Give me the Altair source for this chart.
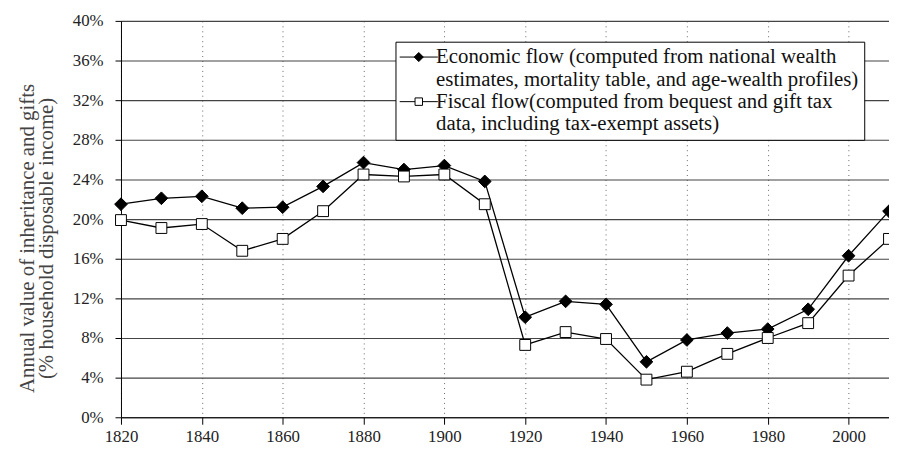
import altair as alt
import pandas as pd

years = [1820, 1830, 1840, 1850, 1860, 1870, 1880, 1890, 1900, 1910,
         1920, 1930, 1940, 1950, 1960, 1970, 1980, 1990, 2000, 2010]
economic = [21.5, 22.1, 22.3, 21.1, 21.2, 23.3, 25.7, 25.0, 25.4, 23.8,
            10.1, 11.7, 11.4, 5.6, 7.8, 8.5, 8.9, 10.9, 16.3, 20.8]
fiscal = [19.9, 19.1, 19.5, 16.8, 18.0, 20.8, 24.5, 24.3, 24.5, 21.5,
          7.3, 8.6, 7.9, 3.8, 4.6, 6.4, 8.0, 9.5, 14.3, 18.0]
series_labels = [
    "Economic flow  (computed from national wealth|estimates, mortality table, and age-wealth profiles)",
    "Fiscal flow(computed from bequest and gift tax|data, including tax-exempt assets)",
]
x_ticks = list(range(1820, 2001, 20))
y_ticks = list(range(0, 41, 4))
y_title = ["Annual value of inheritance and gifts", "(% household disposable income)"]

df = pd.DataFrame({
    "year": years * 2,
    "value": economic + fiscal,
    "series": [series_labels[0]] * len(years) + [series_labels[1]] * len(years),
})

FONT = "Liberation Serif"

x_enc = alt.X("year:Q", scale=alt.Scale(domain=[1820, 2010], nice=False, zero=False),
              axis=alt.Axis(values=x_ticks, format="d", title=None, grid=True,
                            gridDash=[1, 4], gridColor="#666", gridWidth=1,
                            labelFontSize=17, labelPadding=4, tickSize=7,
                            labelFlush=False, labelColor="#222"))
y_enc = alt.Y("value:Q", scale=alt.Scale(domain=[0, 40], nice=False),
              axis=alt.Axis(values=y_ticks, labelExpr="datum.value + '%'",
                            title=y_title, grid=True, gridColor="#444", gridWidth=1.1,
                            labelFontSize=17, labelPadding=12, tickSize=6,
                            labelFlush=False,
                            titleFontSize=21, titleFontWeight="normal", titleColor="#444",
                            titlePadding=16, titleLineHeight=19, titleY=219,
                            labelColor="#222"))

lines = alt.Chart(df).mark_line(color="black", strokeWidth=1.3).encode(
    x=x_enc, y=y_enc, detail="series:N")

points = alt.Chart(df).mark_point(opacity=1, stroke="black", strokeWidth=1).encode(
    x=x_enc, y=y_enc,
    shape=alt.Shape("series:N", scale=alt.Scale(domain=series_labels, range=["diamond", "square"]),
                    legend=None),
    fill=alt.Fill("series:N", scale=alt.Scale(domain=series_labels, range=["black", "white"]),
                  legend=None),
    size=alt.Size("series:N", scale=alt.Scale(domain=series_labels, range=[165, 120]), legend=None),
)

legend_shapes = [
    "M-2.3,0L2.3,0M0,-0.55L0.55,0L0,0.55L-0.55,0Z",
    "M-2.3,0L-0.45,0M0.45,0L2.3,0M-0.45,-0.45L0.45,-0.45L0.45,0.45L-0.45,0.45Z",
]
leg = alt.Legend(
    title=None, orient="none", legendX=277, legendY=21,
    fillColor="white", strokeColor="black", padding=5,
    labelFont=FONT, labelFontSize=21, labelLimit=700,
    labelExpr="split(datum.label, '|')", labelColor="#111",
    symbolSize=280, rowPadding=0, labelOffset=7, symbolStrokeWidth=1,
    symbolOffset=8,
)
legend_layer = alt.Chart(df).transform_filter("false").mark_point(
    opacity=1, stroke="black", strokeWidth=1, size=280).encode(
    x=x_enc, y=y_enc,
    shape=alt.Shape("series:N", scale=alt.Scale(domain=series_labels, range=legend_shapes), legend=leg),
    fill=alt.Fill("series:N", scale=alt.Scale(domain=series_labels, range=["black", "white"]), legend=leg),
)

chart = alt.layer(lines, points, legend_layer).resolve_scale(
    shape="independent", fill="independent"
).properties(
    width=775, height=400,
    autosize="none",
    padding={"left": 114, "top": 11, "right": 0, "bottom": 30},
).configure_axis(
    labelFont=FONT, titleFont=FONT, domainColor="black", tickColor="black",
).configure_view(stroke=None)

chart.save("out.html", embed_options={"renderer": "svg", "actions": False})
